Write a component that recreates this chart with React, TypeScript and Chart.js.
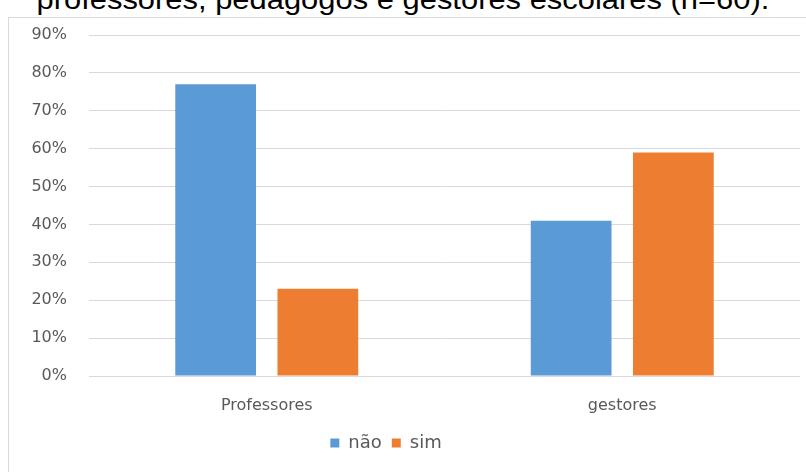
import React, { useEffect, useRef } from "react";
import { Chart, registerables } from "chart.js";

Chart.register(...registerables);

const categories = ["Professores", "gestores"];
const seriesNames = ["não", "sim"];
const naoValues = [77, 41];
const simValues = [23, 59];
const yTicks = [0, 10, 20, 30, 40, 50, 60, 70, 80, 90];
const titleText = "professores, pedagogos e gestores escolares (n=60).";

const BLUE = "#5b9bd5";
const ORANGE = "#ed7d31";
const TEXT = "#595959";
const GRID = "#d9d9d9";

const legendShift = {
  id: "legendShift",
  afterLayout(chart: any) {
    const l = chart.legend;
    if (l) {
      l.left -= 14;
      l.right -= 14;
    }
  },
};

export default function App() {
  const ref = useRef<HTMLCanvasElement | null>(null);

  useEffect(() => {
    if (!ref.current) return;
    const chart = new Chart(ref.current, {
      type: "bar",
      data: {
        labels: categories,
        datasets: [
          {
            label: seriesNames[0],
            data: naoValues,
            backgroundColor: BLUE,
            borderWidth: 0,
          },
          {
            label: seriesNames[1],
            data: simValues,
            backgroundColor: ORANGE,
            borderWidth: 0,
          },
        ],
      },
      plugins: [legendShift],
      options: {
        animation: false,
        responsive: false,
        devicePixelRatio: 1,
        layout: { padding: { top: 35, right: 6, bottom: 10, left: 0 } },
        datasets: {
          bar: { categoryPercentage: 0.575, barPercentage: 0.79 },
        },
        plugins: {
          legend: {
            position: "bottom",
            labels: {
              boxWidth: 9,
              boxHeight: 9,
              padding: 10,
              color: TEXT,
              font: { family: "DejaVu Sans", size: 18 },
            },
          },
          tooltip: { enabled: false },
          title: { display: false },
        },
        scales: {
          x: {
            grid: { display: false, drawTicks: false },
            border: { display: false },
            ticks: {
              color: TEXT,
              padding: 20,
              font: { family: "DejaVu Sans", size: 16 },
            },
            afterFit: (s: any) => {
              s.height = 48;
            },
          },
          y: {
            min: 0,
            max: 90,
            afterBuildTicks: (s: any) => {
              s.ticks = yTicks.map((v) => ({ value: v }));
            },
            grid: { color: GRID, lineWidth: 1, drawTicks: false },
            border: { display: false },
            ticks: {
              color: TEXT,
              padding: 22,
              font: { family: "DejaVu Sans", size: 16 },
              callback: (v: any) => v + "%",
            },
            afterFit: (s: any) => {
              s.width = 89;
            },
          },
        },
      },
    });
    return () => chart.destroy();
  }, []);

  return (
    <div
      style={{
        position: "fixed",
        left: 0,
        top: 0,
        width: 806,
        height: 472,
        overflow: "hidden",
        background: "#ffffff",
      }}
    >
      <div
        style={{
          position: "absolute",
          left: 0,
          top: -14,
          width: 806,
          textAlign: "center",
          fontFamily: "'Liberation Sans', Arial, sans-serif",
          fontSize: 28,
          lineHeight: "28px",
          color: "#000",
          whiteSpace: "nowrap",
        }}
      >
        <span
          style={{
            display: "inline-block",
            transform: "scaleX(1.104)",
            transformOrigin: "center",
          }}
        >
          {titleText}
        </span>
      </div>
      <div
        style={{
          position: "absolute",
          left: 8,
          top: 17,
          width: 820,
          height: 480,
          border: "1px solid #d9d9d9",
          boxSizing: "border-box",
        }}
      />
      <canvas
        ref={ref}
        width={806}
        height={472}
        style={{ position: "absolute", left: 0, top: 0, width: 806, height: 472 }}
      />
    </div>
  );
}
